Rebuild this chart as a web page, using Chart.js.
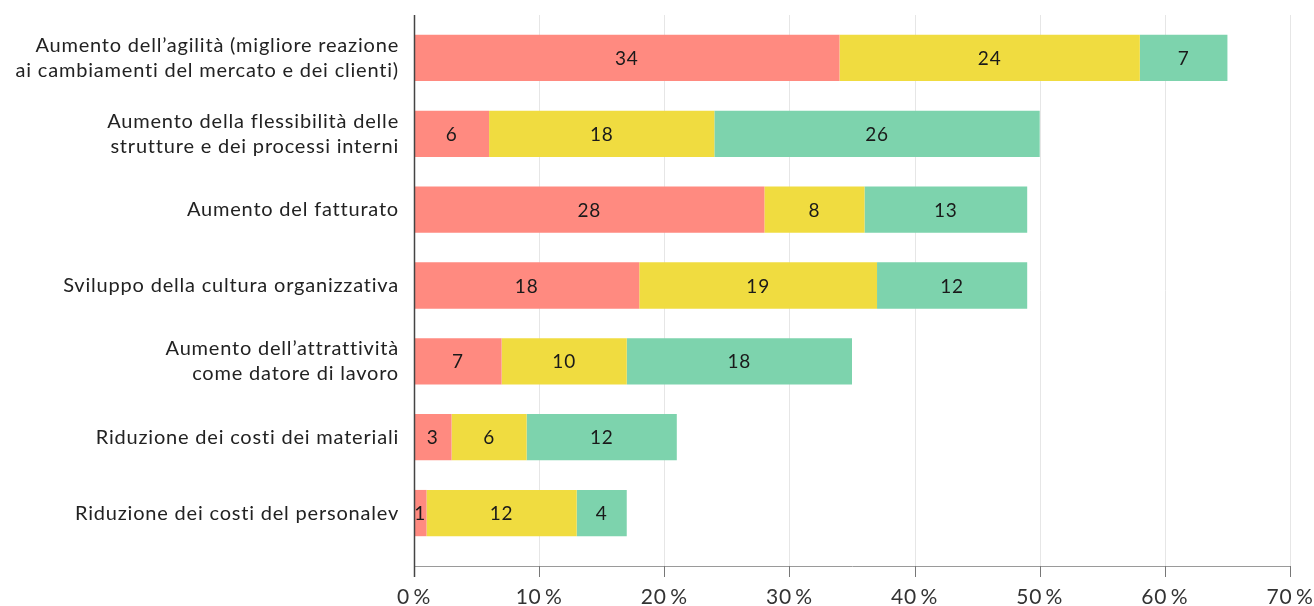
<!DOCTYPE html>
<html>
<head>
<meta charset="utf-8">
<script src="https://cdn.jsdelivr.net/npm/chart.js@4/dist/chart.umd.min.js"></script>
<style>
  html, body { margin: 0; padding: 0; background: #ffffff; }
  #wrap { width: 1314px; height: 606px; }
</style>
</head>
<body>
<div id="wrap"><canvas id="c" width="1314" height="606"></canvas></div>
<script>
const categories = [
  ["Aumento dell\u2019agilità (migliore reazione", "ai cambiamenti del mercato e dei clienti)"],
  ["Aumento della flessibilità delle", "strutture e dei processi interni"],
  "Aumento del fatturato",
  "Sviluppo della cultura organizzativa",
  ["Aumento dell\u2019attrattività", "come datore di lavoro"],
  "Riduzione dei costi dei materiali",
  "Riduzione dei costi del personalev"
];
const seriesRed = [34, 6, 28, 18, 7, 3, 1];
const seriesYellow = [24, 18, 8, 19, 10, 6, 12];
const seriesGreen = [7, 26, 13, 12, 18, 12, 4];
const xTickValues = [0, 10, 20, 30, 40, 50, 60, 70];

const FONT = "Lato, 'Open Sans', sans-serif";
const SPACING = '0.8px';

const spacingPlugin = {
  id: 'spacingPlugin',
  beforeUpdate(chart) { chart.ctx.letterSpacing = SPACING; },
  beforeLayout(chart) { chart.ctx.letterSpacing = SPACING; },
  beforeDraw(chart) { chart.ctx.letterSpacing = SPACING; }
};

const axesPlugin = {
  id: 'axesPlugin',
  beforeDatasetsDraw(chart) {
    const ctx = chart.ctx;
    const x = chart.scales.x;
    const top = 15, bottom = 566;
    ctx.save();
    ctx.lineWidth = 1;
    ctx.strokeStyle = '#e6e6e6';
    xTickValues.forEach(v => {
      if (v === 0) return;
      const px = Math.round(x.getPixelForValue(v)) + 0.5;
      ctx.beginPath(); ctx.moveTo(px, top); ctx.lineTo(px, bottom); ctx.stroke();
    });
    ctx.restore();
  },
  afterDatasetsDraw(chart) {
    const ctx = chart.ctx;
    const x = chart.scales.x;
    const top = 15, bottom = 566;
    const left = Math.round(x.getPixelForValue(0)) + 0.5;
    const right = Math.round(x.getPixelForValue(70)) + 0.5;
    ctx.save();
    ctx.lineWidth = 1;
    ctx.strokeStyle = '#9a9a9a';
    ctx.beginPath(); ctx.moveTo(left, bottom + 0.5); ctx.lineTo(right, bottom + 0.5); ctx.stroke();
    ctx.strokeStyle = '#777777';
    xTickValues.forEach(v => {
      const px = Math.round(x.getPixelForValue(v)) + 0.5;
      ctx.beginPath(); ctx.moveTo(px, bottom); ctx.lineTo(px, bottom + 11); ctx.stroke();
    });
    ctx.strokeStyle = '#444444';
    ctx.lineWidth = 1.5;
    ctx.beginPath(); ctx.moveTo(left, top); ctx.lineTo(left, bottom + 11); ctx.stroke();
    ctx.fillStyle = '#1a1a1a';
    ctx.font = "19px " + FONT;
    ctx.textAlign = 'center';
    ctx.textBaseline = 'middle';
    chart.data.datasets.forEach((ds, di) => {
      const meta = chart.getDatasetMeta(di);
      meta.data.forEach((bar, i) => {
        const cx = (bar.x + bar.base) / 2;
        ctx.fillText(String(ds.data[i]), cx, bar.y + 1);
      });
    });
    ctx.restore();
  }
};

new Chart(document.getElementById('c'), {
  type: 'bar',
  data: {
    labels: categories,
    datasets: [
      { data: seriesRed, backgroundColor: '#FF8A80' },
      { data: seriesYellow, backgroundColor: '#F0DC40' },
      { data: seriesGreen, backgroundColor: '#7DD3AD' }
    ]
  },
  options: {
    indexAxis: 'y',
    responsive: false,
    animation: false,
    devicePixelRatio: 1,
    layout: { padding: { top: 20, right: 24, bottom: 0, left: 0 } },
    plugins: { legend: { display: false }, tooltip: { enabled: false } },
    datasets: { bar: { categoryPercentage: 1, barPercentage: 0.61, borderWidth: 0 } },
    scales: {
      x: {
        stacked: true,
        min: 0, max: 70,
        afterBuildTicks(scale) { scale.ticks = xTickValues.map(v => ({ value: v })); },
        afterFit(scale) { scale.height = 55; scale.paddingLeft = 0; scale.paddingRight = 0; },
        grid: { display: false, drawTicks: false },
        border: { display: false },
        ticks: {
          padding: 34,
          color: '#333333',
          font: { family: FONT, size: 21 },
          maxRotation: 0,
          callback: v => v + '\u2009%'
        }
      },
      y: {
        stacked: true,
        afterFit(scale) { scale.width = 414; scale.paddingTop = 0; scale.paddingBottom = 0; },
        grid: { display: false, drawTicks: false },
        border: { display: false },
        ticks: {
          padding: 15,
          color: '#222222',
          font: { family: FONT, size: 20, lineHeight: 1.25 }
        }
      }
    }
  },
  plugins: [spacingPlugin, axesPlugin]
});
</script>
</body>
</html>
